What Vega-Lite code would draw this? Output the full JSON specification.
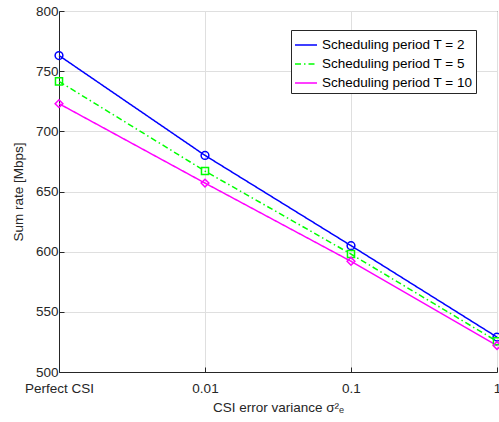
{
  "$schema": "https://vega.github.io/schema/vega-lite/v6.json",
  "autosize": "none",
  "padding": {"left": 59, "top": 11, "right": 2, "bottom": 50},
  "width": 438,
  "height": 361,
  "background": "white",
  "config": {
    "font": "Liberation Sans",
    "view": {"stroke": "#262626", "strokeWidth": 1},
    "axis": {
      "labelFont": "Liberation Sans",
      "titleFont": "Liberation Sans",
      "labelFontSize": 13.5,
      "titleFontSize": 13.5,
      "labelColor": "#262626",
      "titleColor": "#262626",
      "titleFontWeight": "normal",
      "domainColor": "#262626",
      "tickColor": "#262626",
      "gridColor": "#dfdfdf",
      "gridWidth": 1,
      "tickSize": -5
    },
    "legend": {
      "orient": "none",
      "legendX": 232,
      "legendY": 19,
      "fillColor": "white",
      "strokeColor": "#262626",
      "padding": 3,
      "rowPadding": -4,
      "symbolType": "stroke",
      "symbolStrokeWidth": 1.5,
      "symbolSize": 484,
      "labelFont": "Liberation Sans",
      "labelFontSize": 13.5,
      "labelColor": "#000000",
      "labelOffset": 4,
      "labelLimit": 300
    }
  },
  "data": {
    "values": [
      {"csi": "Perfect CSI", "series": "Scheduling period T = 2", "rate": 763},
      {"csi": "0.01", "series": "Scheduling period T = 2", "rate": 680},
      {"csi": "0.1", "series": "Scheduling period T = 2", "rate": 605},
      {"csi": "1", "series": "Scheduling period T = 2", "rate": 529},
      {"csi": "Perfect CSI", "series": "Scheduling period T = 5", "rate": 741.5},
      {"csi": "0.01", "series": "Scheduling period T = 5", "rate": 667},
      {"csi": "0.1", "series": "Scheduling period T = 5", "rate": 598},
      {"csi": "1", "series": "Scheduling period T = 5", "rate": 525.5},
      {"csi": "Perfect CSI", "series": "Scheduling period T = 10", "rate": 723},
      {"csi": "0.01", "series": "Scheduling period T = 10", "rate": 657},
      {"csi": "0.1", "series": "Scheduling period T = 10", "rate": 592},
      {"csi": "1", "series": "Scheduling period T = 10", "rate": 522}
    ]
  },
  "encoding": {
    "x": {
      "field": "csi",
      "type": "ordinal",
      "sort": ["Perfect CSI", "0.01", "0.1", "1"],
      "scale": {"type": "point", "padding": 0},
      "axis": {
        "title": "CSI error variance σ²ₑ",
        "labelAngle": 0,
        "labelPadding": 14,
        "titlePadding": 6,
        "grid": true
      }
    },
    "y": {
      "field": "rate",
      "type": "quantitative",
      "scale": {"domain": [500, 800], "nice": false, "zero": false},
      "axis": {
        "title": "Sum rate [Mbps]",
        "values": [500, 550, 600, 650, 700, 750, 800],
        "labelPadding": 6,
        "titlePadding": 10,
        "grid": true
      }
    },
    "color": {
      "field": "series",
      "type": "nominal",
      "scale": {
        "domain": ["Scheduling period T = 2", "Scheduling period T = 5", "Scheduling period T = 10"],
        "range": ["#0000ff", "#00ff00", "#ff00ff"]
      },
      "legend": null
    }
  },
  "layer": [
    {
      "mark": {"type": "line", "strokeWidth": 1.5},
      "encoding": {
        "color": {
          "field": "series",
          "type": "nominal",
          "legend": {"title": null}
        },
        "strokeDash": {
          "field": "series",
          "type": "nominal",
          "scale": {
            "domain": ["Scheduling period T = 2", "Scheduling period T = 5", "Scheduling period T = 10"],
            "range": [[1, 0], [6, 3, 1.5, 3], [1, 0]]
          },
          "legend": {"title": null}
        }
      }
    },
    {
      "transform": [{"filter": "datum.series === 'Scheduling period T = 2'"}],
      "mark": {"type": "point", "shape": "circle", "filled": false, "strokeWidth": 1.5, "size": 60, "opacity": 1}
    },
    {
      "transform": [{"filter": "datum.series === 'Scheduling period T = 5'"}],
      "mark": {"type": "point", "shape": "square", "filled": false, "strokeWidth": 1.5, "size": 50, "opacity": 1}
    },
    {
      "transform": [{"filter": "datum.series === 'Scheduling period T = 10'"}],
      "mark": {"type": "point", "shape": "diamond", "filled": false, "strokeWidth": 1.5, "size": 60, "opacity": 1}
    }
  ]
}
